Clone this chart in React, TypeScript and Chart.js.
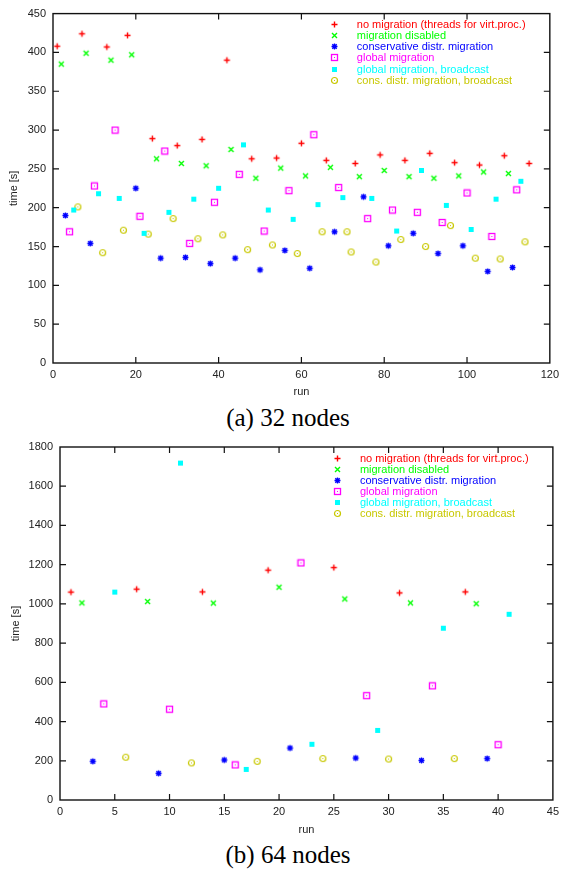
import React, { useEffect, useRef } from 'react';
import { Chart, registerables } from 'chart.js';
Chart.register(...registerables);

const SERIES_LABELS = [
  'no migration (threads for virt.proc.)',
  'migration disabled',
  'conservative distr. migration',
  'global migration',
  'global migration, broadcast',
  'cons. distr. migration, broadcast',
];
const SERIES_COLORS = ['#ff0000', '#00ff00', '#0000ff', '#ff00ff', '#00ffff', '#c8c800'];
const SERIES_MARKS = ['plus', 'x', 'star', 'box', 'fbox', 'circle'];

// (a) 32 nodes
const aNoMigRuns = [1, 7, 13, 18, 24, 30, 36, 42, 48, 54, 60, 66, 73, 79, 85, 91, 97, 103, 109, 115];
const aNoMigTime = [408, 424, 407, 422, 289, 280, 288, 390, 263, 264, 283, 261, 257, 268, 261, 270, 258, 255, 267, 257];
const aDisabledRuns = [2, 8, 14, 19, 25, 31, 37, 43, 49, 55, 61, 67, 74, 80, 86, 92, 98, 104, 110];
const aDisabledTime = [385, 399, 390, 397, 263, 257, 254, 275, 238, 251, 241, 252, 240, 248, 240, 238, 241, 246, 244];
const aConsRuns = [3, 9, 20, 26, 32, 38, 44, 50, 56, 62, 68, 75, 81, 87, 93, 99, 105, 111];
const aConsTime = [190, 154, 225, 135, 136, 128, 135, 120, 145, 122, 169, 214, 151, 167, 141, 151, 118, 123];
const aGlobalRuns = [4, 10, 15, 21, 27, 33, 39, 45, 51, 57, 63, 69, 76, 82, 88, 94, 100, 106, 112];
const aGlobalTime = [169, 228, 300, 189, 273, 154, 207, 243, 170, 222, 294, 226, 186, 197, 194, 181, 219, 163, 223];
const aGlobalBcRuns = [5, 11, 16, 22, 28, 34, 40, 46, 52, 58, 64, 70, 77, 83, 89, 95, 101, 107, 113];
const aGlobalBcTime = [197, 218, 212, 167, 194, 211, 225, 281, 197, 185, 204, 213, 212, 170, 248, 203, 172, 211, 234];
const aConsBcRuns = [6, 12, 17, 23, 29, 35, 41, 47, 53, 59, 65, 71, 72, 78, 84, 90, 96, 102, 108, 114];
const aConsBcTime = [201, 142, 171, 166, 186, 160, 165, 146, 152, 141, 169, 169, 143, 130, 159, 150, 177, 135, 134, 156];

// (b) 64 nodes
const bNoMigRuns = [1, 7, 13, 19, 25, 31, 37];
const bNoMigTime = [1060, 1075, 1061, 1172, 1185, 1056, 1061];
const bDisabledRuns = [2, 8, 14, 20, 26, 32, 38];
const bDisabledTime = [1005, 1012, 1004, 1085, 1025, 1005, 1001];
const bConsRuns = [3, 9, 15, 21, 27, 33, 39];
const bConsTime = [197, 136, 204, 265, 214, 202, 211];
const bGlobalRuns = [4, 10, 16, 22, 28, 34, 40];
const bGlobalTime = [490, 463, 179, 1209, 532, 582, 282];
const bGlobalBcRuns = [5, 11, 17, 23, 29, 35, 41];
const bGlobalBcTime = [1060, 1718, 156, 284, 355, 876, 947];
const bConsBcRuns = [6, 12, 18, 24, 30, 36];
const bConsBcTime = [218, 189, 197, 211, 209, 211];

const aXTicks = { min: 0, max: 120, step: 20 };
const aYTicks = { min: 0, max: 450, step: 50 };
const bXTicks = { min: 0, max: 45, step: 5 };
const bYTicks = { min: 0, max: 1800, step: 200 };

const FONT = 'Liberation Sans, Arial, Helvetica, sans-serif';

function makeSprite(kind: string, color: string): HTMLCanvasElement {
  const c = document.createElement('canvas');
  c.width = 9;
  c.height = 9;
  const g = c.getContext('2d')!;
  g.strokeStyle = color;
  g.fillStyle = color;
  g.lineWidth = 1.4;
  g.beginPath();
  if (kind === 'plus') {
    g.moveTo(1.5, 4.5); g.lineTo(7.5, 4.5);
    g.moveTo(4.5, 1.5); g.lineTo(4.5, 7.5);
    g.stroke();
  } else if (kind === 'x') {
    g.moveTo(2, 2); g.lineTo(7, 7);
    g.moveTo(7, 2); g.lineTo(2, 7);
    g.stroke();
  } else if (kind === 'star') {
    g.moveTo(1.5, 4.5); g.lineTo(7.5, 4.5);
    g.moveTo(4.5, 1.5); g.lineTo(4.5, 7.5);
    g.moveTo(2.3, 2.3); g.lineTo(6.7, 6.7);
    g.moveTo(6.7, 2.3); g.lineTo(2.3, 6.7);
    g.stroke();
    g.fillRect(3.5, 3.5, 2, 2);
  } else if (kind === 'box') {
    g.lineWidth = 1.3;
    g.strokeRect(1.5, 1.5, 6, 6);
    g.fillRect(4, 4, 1, 1);
  } else if (kind === 'fbox') {
    g.fillRect(2, 2, 5, 5);
  } else if (kind === 'circle') {
    g.lineWidth = 1.2;
    g.arc(4.5, 4.5, 3, 0, Math.PI * 2);
    g.stroke();
    g.fillRect(4, 4, 1, 1);
  }
  return c;
}

const framePlugin = {
  id: 'gnuFrame',
  beforeDatasetsDraw(chart: any) {
    const { ctx, chartArea, scales } = chart;
    const { left, right, top, bottom } = chartArea;
    const x = scales.x;
    const y = scales.y;
    const tl = 6;
    ctx.save();
    ctx.strokeStyle = '#111';
    ctx.lineWidth = 1.2;
    ctx.beginPath();
    x.ticks.forEach((t: any) => {
      const px = x.getPixelForValue(t.value);
      if (px <= left + 1 || px >= right - 1) return;
      ctx.moveTo(px, bottom); ctx.lineTo(px, bottom - tl);
      ctx.moveTo(px, top); ctx.lineTo(px, top + tl);
    });
    y.ticks.forEach((t: any) => {
      const py = y.getPixelForValue(t.value);
      if (py <= top + 1 || py >= bottom - 1) return;
      ctx.moveTo(left, py); ctx.lineTo(left + tl, py);
      ctx.moveTo(right, py); ctx.lineTo(right - tl, py);
    });
    ctx.stroke();
    ctx.lineWidth = 1.4;
    ctx.strokeRect(left, top, right - left, bottom - top);
    ctx.restore();
  },
  afterDraw(chart: any) {
    const { ctx, chartArea } = chart;
    const { right, top } = chartArea;
    ctx.save();
    ctx.font = `11px ${FONT}`;
    ctx.textBaseline = 'middle';
    ctx.textAlign = 'left';
    chart.data.datasets.forEach((ds: any, i: number) => {
      const yy = top + 11 + i * 11.1;
      const sx = right - 215;
      const img = ds.pointStyle as HTMLCanvasElement;
      ctx.drawImage(img, Math.round(sx - img.width / 2), Math.round(yy - img.height / 2));
      ctx.fillStyle = ds.borderColor;
      ctx.fillText(ds.label, right - 193, yy + 0.5);
    });
    ctx.restore();
  },
};

type PanelCfg = {
  runs: number[][];
  times: number[][];
  xt: { min: number; max: number; step: number };
  yt: { min: number; max: number; step: number };
  yAxisWidth: number;
  xAxisHeight: number;
  padTop: number;
  xTitlePad: number;
  yTitlePad: number;
  height: number;
};

function Panel({ cfg }: { cfg: PanelCfg }) {
  const ref = useRef<HTMLCanvasElement | null>(null);
  useEffect(() => {
    if (!ref.current) return;
    const datasets = SERIES_LABELS.map((label, i) => ({
      label,
      data: cfg.runs[i].map((r, j) => ({ x: r, y: cfg.times[i][j] })),
      pointStyle: makeSprite(SERIES_MARKS[i], SERIES_COLORS[i]) as any,
      pointRadius: 4,
      borderColor: SERIES_COLORS[i],
      backgroundColor: SERIES_COLORS[i],
      showLine: false,
    }));
    const chart = new Chart(ref.current, {
      type: 'scatter',
      data: { datasets },
      options: {
        animation: false,
        responsive: false,
        devicePixelRatio: 1,
        layout: { padding: { top: cfg.padTop, right: 9, left: 0, bottom: 0 } },
        plugins: { legend: { display: false }, tooltip: { enabled: false } },
        events: [],
        scales: {
          x: {
            type: 'linear',
            min: cfg.xt.min,
            max: cfg.xt.max,
            grid: { display: false, drawTicks: false },
            border: { display: false },
            ticks: { stepSize: cfg.xt.step, color: '#222', font: { family: FONT, size: 11 }, padding: 5, maxRotation: 0, callback: (v: any) => String(v) },
            title: { display: true, text: 'run', color: '#222', font: { family: FONT, size: 11 }, padding: { top: 0, bottom: cfg.xTitlePad } },
            afterFit: (s: any) => { s.height = cfg.xAxisHeight; },
          },
          y: {
            type: 'linear',
            min: cfg.yt.min,
            max: cfg.yt.max,
            grid: { display: false, drawTicks: false },
            border: { display: false },
            ticks: { stepSize: cfg.yt.step, color: '#222', font: { family: FONT, size: 11 }, padding: 7, callback: (v: any) => String(v) },
            title: { display: true, text: 'time [s]', color: '#222', font: { family: FONT, size: 11 }, padding: { top: cfg.yTitlePad, bottom: 0 } },
            afterFit: (s: any) => { s.width = cfg.yAxisWidth; },
          },
        },
      },
      plugins: [framePlugin],
    });
    return () => chart.destroy();
  }, [cfg]);
  return <canvas ref={ref} width={564} height={cfg.height} style={{ display: 'block' }} />;
}

const cfgA: PanelCfg = {
  runs: [aNoMigRuns, aDisabledRuns, aConsRuns, aGlobalRuns, aGlobalBcRuns, aConsBcRuns],
  times: [aNoMigTime, aDisabledTime, aConsTime, aGlobalTime, aGlobalBcTime, aConsBcTime],
  xt: aXTicks,
  yt: aYTicks,
  yAxisWidth: 53,
  xAxisHeight: 37,
  padTop: 11,
  xTitlePad: 1,
  yTitlePad: 7,
  height: 400,
};

const cfgB: PanelCfg = {
  runs: [bNoMigRuns, bDisabledRuns, bConsRuns, bGlobalRuns, bGlobalBcRuns, bConsBcRuns],
  times: [bNoMigTime, bDisabledTime, bConsTime, bGlobalTime, bGlobalBcTime, bConsBcTime],
  xt: bXTicks,
  yt: bYTicks,
  yAxisWidth: 60,
  xAxisHeight: 40,
  padTop: 17,
  xTitlePad: 3,
  yTitlePad: 9,
  height: 410,
};

const captionStyle: React.CSSProperties = {
  position: 'absolute',
  left: 0,
  width: 576,
  textAlign: 'center',
  fontFamily: 'Liberation Serif, Times New Roman, serif',
  fontSize: 25,
  lineHeight: '28px',
  color: '#000',
};

export default function App() {
  return (
    <div style={{ position: 'absolute', left: 0, top: 0, width: 564, height: 870, background: '#fff', overflow: 'hidden' }}>
      <div style={{ position: 'absolute', left: 0, top: 0 }}>
        <Panel cfg={cfgA} />
      </div>
      <div style={{ ...captionStyle, top: 404 }}>(a) 32 nodes</div>
      <div style={{ position: 'absolute', left: 0, top: 430 }}>
        <Panel cfg={cfgB} />
      </div>
      <div style={{ ...captionStyle, top: 841 }}>(b) 64 nodes</div>
    </div>
  );
}
